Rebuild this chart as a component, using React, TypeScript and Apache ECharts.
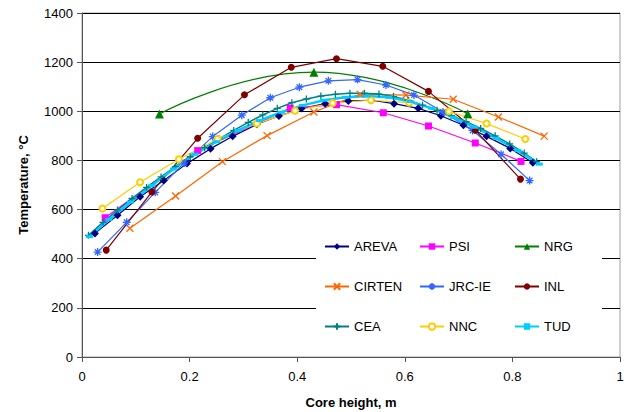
import React, { useEffect, useRef } from "react";
import * as echarts from "echarts";

const xTicks = [0, 0.2, 0.4, 0.6, 0.8, 1];
const yTicks = [0, 200, 400, 600, 800, 1000, 1200, 1400];

const arevaX = [0.024, 0.066, 0.108, 0.152, 0.195, 0.239, 0.28, 0.325, 0.366, 0.408, 0.452, 0.495, 0.538, 0.58, 0.625, 0.667, 0.709, 0.752, 0.796, 0.838];
const arevaY = [503, 577, 652, 718, 787, 848, 898, 947, 981, 1011, 1031, 1042, 1045, 1031, 1012, 982, 943, 898, 849, 791];

const psiX = [0.043, 0.215, 0.387, 0.473, 0.56, 0.644, 0.731, 0.816];
const psiY = [567, 840, 1013, 1027, 994, 940, 871, 796];

const nrgX = [0.144, 0.431, 0.717];
const nrgY = [989, 1159, 990];

const cirtenX = [0.089, 0.174, 0.261, 0.344, 0.431, 0.517, 0.602, 0.69, 0.774, 0.859];
const cirtenY = [524, 655, 795, 901, 997, 1070, 1066, 1049, 977, 899];

const jrcX = [0.029, 0.083, 0.136, 0.19, 0.243, 0.297, 0.35, 0.404, 0.458, 0.512, 0.565, 0.617, 0.671, 0.726, 0.779, 0.832];
const jrcY = [427, 548, 670, 790, 897, 984, 1055, 1098, 1124, 1129, 1107, 1066, 997, 922, 825, 718];

const inlX = [0.045, 0.13, 0.215, 0.302, 0.389, 0.473, 0.559, 0.644, 0.731, 0.815];
const inlY = [435, 672, 890, 1067, 1179, 1214, 1183, 1081, 923, 724];

const ceaX = [0.012, 0.039, 0.066, 0.093, 0.12, 0.147, 0.174, 0.201, 0.228, 0.255, 0.282, 0.309, 0.336, 0.363, 0.39, 0.417, 0.444, 0.471, 0.498, 0.525, 0.552, 0.579, 0.606, 0.633, 0.66, 0.687, 0.714, 0.741, 0.768, 0.795, 0.822, 0.845];
const ceaY = [495, 548, 598, 645, 690, 733, 775, 815, 852, 888, 922, 955, 985, 1012, 1035, 1050, 1062, 1069, 1073, 1073, 1070, 1060, 1045, 1025, 1004, 982, 958, 930, 900, 867, 830, 795];

const nncX = [0.038, 0.108, 0.18, 0.252, 0.325, 0.396, 0.466, 0.537, 0.608, 0.682, 0.752, 0.824];
const nncY = [604, 711, 805, 887, 950, 1002, 1034, 1045, 1035, 1000, 950, 887];

const tudX = [0.014, 0.05, 0.09, 0.13, 0.17, 0.21, 0.25, 0.29, 0.33, 0.37, 0.41, 0.45, 0.49, 0.53, 0.57, 0.61, 0.65, 0.69, 0.73, 0.77, 0.81, 0.85];
const tudY = [490, 560, 630, 698, 765, 825, 876, 922, 962, 996, 1024, 1045, 1057, 1062, 1057, 1040, 1012, 975, 935, 890, 840, 785];

const FONT = "Liberation Sans";

const zip = (xs: number[], ys: number[]) => xs.map((x, i) => [x, ys[i]]);

const SYM_X = "path://M0,0L10,10M10,0L0,10";
const SYM_AST = "path://M5,0L5,10M0,5L10,5M1.5,1.5L8.5,8.5M8.5,1.5L1.5,8.5";
const SYM_PLUS = "path://M5,0L5,10M0,5L10,5";

function mk(name: string, xs: number[], ys: number[], color: string, symbol: string, symbolSize: any, extra: any = {}) {
  const stroked = symbol.startsWith("path://") || symbol === "emptyCircle";
  return {
    name,
    type: "line",
    data: zip(xs, ys),
    symbol,
    symbolSize,
    showSymbol: true,
    lineStyle: { color, width: extra.width ?? 1.2 },
    itemStyle: stroked
      ? { color, borderColor: color, borderWidth: 1.3 }
      : { color, borderWidth: 0 },
    smooth: extra.smooth ?? false,
    z: 3,
  };
}

export default function App() {
  const ref = useRef<HTMLDivElement>(null);
  useEffect(() => {
    if (!ref.current) return;
    const chart = echarts.init(ref.current, undefined, { renderer: "svg" });
    const legendText = { fontFamily: FONT, fontSize: 13, color: "#000" };
    const legendCommon = {
      orient: "vertical",
      top: 240,
      itemWidth: 24,
      itemHeight: 8,
      itemGap: 27,
      textStyle: legendText,
      selectedMode: false,
      padding: 0,
    };
    chart.setOption({
      animation: false,
      backgroundColor: "#fff",
      textStyle: { fontFamily: FONT },
      grid: {
        left: 82,
        top: 13,
        width: 538,
        height: 344,
        show: true,
        borderColor: "#a0a0a0",
        borderWidth: 1,
        backgroundColor: "transparent",
        containLabel: false,
        outerBoundsMode: "none",
      },
      xAxis: {
        type: "value",
        min: xTicks[0],
        max: xTicks[xTicks.length - 1],
        interval: 0.2,
        name: "Core height, m",
        nameLocation: "middle",
        nameGap: 39,
        nameTextStyle: { fontFamily: FONT, fontSize: 13, fontWeight: "bold", color: "#000" },
        axisLine: { show: true, lineStyle: { color: "#555", width: 1 } },
        axisTick: { show: true, length: 5, inside: false, lineStyle: { color: "#555" } },
        axisLabel: { fontFamily: FONT, fontSize: 13, color: "#000", margin: 13, formatter: (v: number) => String(+v.toFixed(1)) },
        splitLine: { show: false },
      },
      yAxis: {
        type: "value",
        min: yTicks[0],
        max: yTicks[yTicks.length - 1],
        interval: 200,
        name: "Temperature, °C",
        nameLocation: "middle",
        nameGap: 52,
        nameTextStyle: { fontFamily: FONT, fontSize: 13, fontWeight: "bold", color: "#000" },
        axisLine: { show: true, lineStyle: { color: "#555", width: 1 } },
        axisTick: { show: true, length: 5, lineStyle: { color: "#555" } },
        axisLabel: { fontFamily: FONT, fontSize: 13, color: "#000", margin: 9, formatter: (v: number) => String(v) },
        splitLine: { show: true, lineStyle: { color: "#000", width: 1 } },
      },
      graphic: [
        {
          type: "rect",
          z: 1,
          shape: { x: 316, y: 228, width: 286, height: 118 },
          style: { fill: "#fff" },
          silent: true,
        },
      ],
      legend: [
        { ...legendCommon, left: 324, data: ["AREVA", "CIRTEN", "CEA"] },
        { ...legendCommon, left: 419, data: ["PSI", "JRC-IE", "NNC"] },
        { ...legendCommon, left: 514, data: ["NRG", "INL", "TUD"] },
      ],
      series: [
        mk("AREVA", arevaX, arevaY, "#000080", "diamond", 8),
        mk("PSI", psiX, psiY, "#FF00FF", "rect", 7),
        mk("NRG", nrgX, nrgY, "#008000", "triangle", 9, { smooth: 0.5 }),
        mk("CIRTEN", cirtenX, cirtenY, "#FF6600", SYM_X, 7),
        mk("JRC-IE", jrcX, jrcY, "#3366FF", SYM_AST, 8),
        mk("INL", inlX, inlY, "#800000", "circle", 7),
        mk("CEA", ceaX, ceaY, "#008080", SYM_PLUS, 7, { width: 1.5 }),
        mk("NNC", nncX, nncY, "#FFCC00", "emptyCircle", 6),
        mk("TUD", tudX, tudY, "#00CCFF", "rect", [7, 3], { width: 2.5 }),
      ],
    });
    return () => chart.dispose();
  }, []);
  return <div ref={ref} style={{ position: "absolute", left: 0, top: 0, width: 630, height: 412 }} />;
}
